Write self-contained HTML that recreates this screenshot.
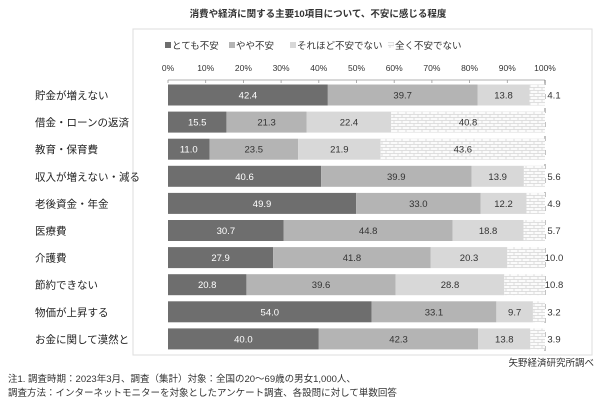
<!DOCTYPE html>
<html><head><meta charset="utf-8"><style>
body{margin:0;background:#fff;}
svg text{font-family:"Liberation Sans","Noto Sans CJK JP",sans-serif;}
</style></head><body>
<svg id="s" width="600" height="400" viewBox="0 0 600 400" xmlns="http://www.w3.org/2000/svg">
<defs>
<pattern id="brick" width="8" height="6" patternUnits="userSpaceOnUse">
<rect width="8" height="6" fill="#fbfbfb"/>
<path d="M0 0.5H8M0 3.5H8M2 0.5V3.5M6 3.5V6" stroke="#d6d6d6" stroke-width="0.8" fill="none"/>
</pattern>
</defs>
<text x="318" y="17" font-size="9.5" font-weight="bold" text-anchor="middle" fill="#333">消費や経済に関する主要10項目について、不安に感じる程度</text>
<rect x="133" y="29" width="459" height="326" fill="none" stroke="#ddd"/>
<g font-size="9.5" fill="#333">
<rect x="165" y="42" width="6" height="6" fill="#6e6e6e"/><text x="172" y="49">とても不安</text>
<rect x="229" y="42" width="6" height="6" fill="#b4b4b4"/><text x="236" y="49">やや不安</text>
<rect x="290" y="42" width="6" height="6" fill="#d8d8d8"/><text x="297" y="49">それほど不安でない</text>
<rect x="388" y="42" width="6" height="6" fill="url(#brick)"/><text x="395" y="49">全く不安でない</text>
</g>
<g id="g"></g>
<text x="594" y="366" font-size="9.5" text-anchor="end" fill="#333">矢野経済研究所調べ</text>
<text x="8" y="382" font-size="9.5" fill="#333">注1. 調査時期：2023年3月、調査（集計）対象：全国の20～69歳の男女1,000人、</text>
<text x="8" y="396" font-size="9.5" fill="#333">調査方法：インターネットモニターを対象としたアンケート調査、各設問に対して単数回答</text>
</svg>
<script>
const g=document.getElementById('g');let h='';
const x0=168,W=377;
for(let i=0;i<=10;i++){const x=x0+W*i/10;h+=`<text x="${x}" y="71" font-size="8.5" text-anchor="middle" fill="#333">${i*10}%</text>`;}
h+=`<line x1="${x0}" y1="80" x2="${x0+W}" y2="80" stroke="#999" stroke-width="0.8"/>`;
for(let i=0;i<=10;i++){const x=x0+W*i/10;h+=`<line x1="${x}" y1="80" x2="${x}" y2="83" stroke="#999" stroke-width="0.8"/>`;}
h+=`<line x1="${x0+W}" y1="80" x2="${x0+W}" y2="352" stroke="#666" stroke-width="0.8" stroke-dasharray="5,9"/>`;
const d=[["貯金が増えない",42.4,39.7,13.8,4.1],["借金・ローンの返済",15.5,21.3,22.4,40.8],["教育・保育費",11.0,23.5,21.9,43.6],["収入が増えない・減る",40.6,39.9,13.9,5.6],["老後資金・年金",49.9,33.0,12.2,4.9],["医療費",30.7,44.8,18.8,5.7],["介護費",27.9,41.8,20.3,10.0],["節約できない",20.8,39.6,28.8,10.8],["物価が上昇する",54.0,33.1,9.7,3.2],["お金に関して漠然と",40.0,42.3,13.8,3.9]];
const cols=["#6e6e6e","#b4b4b4","#d8d8d8","url(#brick)"],tc=["#fff","#333","#333","#333"];
d.forEach((r,i)=>{const cy=95+i*27.1,bh=21;h+=`<text x="35" y="${cy+4}" font-size="10.5" fill="#222">${r[0]}</text>`;
let x=x0;for(let k=1;k<=4;k++){const w=W*r[k]/100;h+=`<rect x="${x}" y="${cy-bh/2}" width="${w}" height="${bh}" fill="${cols[k-1]}"/>`;
let tx=x+w/2;if(k==4&&r[k]<12)tx=x+w+9;h+=`<text x="${tx}" y="${cy+3.5}" font-size="9.5" text-anchor="middle" fill="${tc[k-1]}">${r[k].toFixed(1)}</text>`;x+=w;}});
g.innerHTML=h;
</script>
</body></html>
